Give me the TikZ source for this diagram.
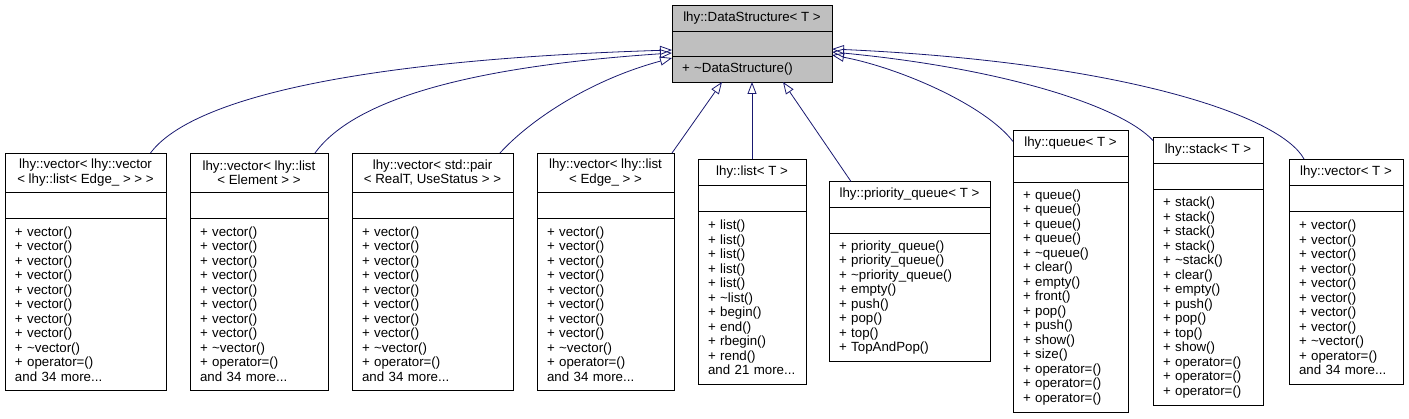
\documentclass[tikz,border=0pt]{standalone}
\usepackage{fontspec}
\setmainfont{Liberation Sans}
\usetikzlibrary{positioning,arrows.meta}
\definecolor{edgeblue}{HTML}{191970}
\definecolor{basegray}{HTML}{BFBFBF}
\newcommand{\vectorops}{+ vector()\\+ vector()\\+ vector()\\+ vector()\\+ vector()\\+ vector()\\+ vector()\\+ vector()\\+ \textasciitilde vector()\\+ operator=()\\and 34 more...}

\begin{document}
\begin{tikzpicture}[x=1pt, y=-1pt,
  box/.style={draw=black, line width=0.9pt, outer sep=0pt, inner sep=0pt,
    font=\fontsize{13.3}{14.5}\selectfont, align=center},
  ttl/.style={box, anchor=north, minimum height=26pt},
  attr/.style={box, minimum height=26pt},
  ops/.style={box, align=left, inner xsep=10pt},
  inh/.style={draw=edgeblue, line width=0.8pt, -{Triangle[open, length=12pt, width=9pt]}}]
  \useasboundingbox (0,0) rectangle (1409,419);

  % Base class
  \node[ttl, fill=basegray, minimum width=160pt] (base) at (752,5) {lhy::DataStructure< T >};
  \node[attr, fill=basegray, minimum width=160pt, minimum height=25pt, below=0pt of base] (base-a) {};
  \node[ops, fill=basegray, text width=140pt, minimum height=26pt, below=0pt of base-a] (base-o) {+ \textasciitilde DataStructure()};

  % Derived classes: vector specialisations
  \node[ttl, minimum width=161pt, minimum height=39pt] (vvl) at (85.5,153) {lhy::vector< lhy::vector\\< lhy::list< Edge\_ > > >};
  \node[attr, minimum width=161pt, below=0pt of vvl] (vvl-a) {};
  \node[ops, text width=141pt, minimum height=172pt, below=0pt of vvl-a] (vvl-o) {\vectorops};

  \node[ttl, minimum width=138pt, minimum height=39pt] (vle) at (259,153) {lhy::vector< lhy::list\\< Element > >};
  \node[attr, minimum width=138pt, below=0pt of vle] (vle-a) {};
  \node[ops, text width=118pt, minimum height=172pt, below=0pt of vle-a] (vle-o) {\vectorops};

  \node[ttl, minimum width=161pt, minimum height=39pt] (vsp) at (432.5,153) {lhy::vector< std::pair\\< RealT, UseStatus > >};
  \node[attr, minimum width=161pt, below=0pt of vsp] (vsp-a) {};
  \node[ops, text width=141pt, minimum height=172pt, below=0pt of vsp-a] (vsp-o) {\vectorops};

  \node[ttl, minimum width=137pt, minimum height=39pt] (vld) at (605.5,153) {lhy::vector< lhy::list\\< Edge\_ > >};
  \node[attr, minimum width=137pt, below=0pt of vld] (vld-a) {};
  \node[ops, text width=117pt, minimum height=172pt, below=0pt of vld-a] (vld-o) {\vectorops};

  % Derived classes: containers
  \node[ttl, minimum width=108pt] (lst) at (752,159) {lhy::list< T >};
  \node[attr, minimum width=108pt, below=0pt of lst] (lst-a) {};
  \node[ops, text width=88pt, minimum height=173pt, below=0pt of lst-a] (lst-o) {+ list()\\+ list()\\+ list()\\+ list()\\+ list()\\+ \textasciitilde list()\\+ begin()\\+ end()\\+ rbegin()\\+ rend()\\and 21 more...};

  \node[ttl, minimum width=161pt] (pq) at (909.5,181.5) {lhy::priority\_queue< T >};
  \node[attr, minimum width=161pt, below=0pt of pq] (pq-a) {};
  \node[ops, text width=141pt, minimum height=128pt, below=0pt of pq-a] (pq-o) {+ priority\_queue()\\+ priority\_queue()\\+ \textasciitilde priority\_queue()\\+ empty()\\+ push()\\+ pop()\\+ top()\\+ TopAndPop()};

  \node[ttl, minimum width=115pt] (que) at (1070.5,130.5) {lhy::queue< T >};
  \node[attr, minimum width=115pt, below=0pt of que] (que-a) {};
  \node[ops, text width=95pt, minimum height=230pt, below=0pt of que-a] (que-o) {+ queue()\\+ queue()\\+ queue()\\+ queue()\\+ \textasciitilde queue()\\+ clear()\\+ empty()\\+ front()\\+ pop()\\+ push()\\+ show()\\+ size()\\+ operator=()\\+ operator=()\\+ operator=()};

  \node[ttl, minimum width=110pt] (stk) at (1208,137.5) {lhy::stack< T >};
  \node[attr, minimum width=110pt, below=0pt of stk] (stk-a) {};
  \node[ops, text width=90pt, minimum height=216pt, below=0pt of stk-a] (stk-o) {+ stack()\\+ stack()\\+ stack()\\+ stack()\\+ \textasciitilde stack()\\+ clear()\\+ empty()\\+ push()\\+ pop()\\+ top()\\+ show()\\+ operator=()\\+ operator=()\\+ operator=()};

  \node[ttl, minimum width=114pt] (vec) at (1346,159) {lhy::vector< T >};
  \node[attr, minimum width=114pt, below=0pt of vec] (vec-a) {};
  \node[ops, text width=94pt, minimum height=173pt, below=0pt of vec-a] (vec-o) {\vectorops};

  % Inheritance arrows, left side
  \draw[inh] ([xshift=65pt]vvl.north) .. controls (190,100) and (350,60) .. ([yshift=-6.5pt]base-a.west);
  \draw[inh] ([xshift=56pt]vle.north) .. controls (350,105) and (450,68) .. ([yshift=-9.5pt]base-a.west);
  \draw[inh] ([xshift=67.5pt]vsp.north) .. controls (530,120) and (590,80) .. ([yshift=-14.5pt]base-a.west);
  % Inheritance arrows, bottom
  \draw[inh] ([xshift=-2pt]vld.north east) -- ([xshift=-30pt]base-o.south);
  \draw[inh] (lst.north) -- (base-o.south);
  \draw[inh] ([xshift=-58.5pt]pq.north) -- ([xshift=31pt]base-o.south);
  % Inheritance arrows, right side
  \draw[inh] ([yshift=-11pt]que.north west) .. controls (985,105) and (900,68) .. ([yshift=-11.5pt]base-a.east);
  \draw[inh] ([yshift=-3pt]stk.north west) .. controls (1120,105) and (1000,68) .. ([yshift=-8.5pt]base-a.east);
  \draw[inh] ([xshift=-42pt]vec.north) .. controls (1280,115) and (1120,62) .. ([yshift=-5.5pt]base-a.east);
\end{tikzpicture}
\end{document}
